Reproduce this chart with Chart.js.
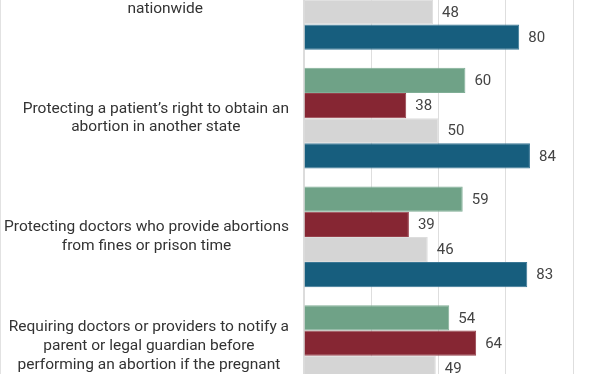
<!DOCTYPE html>
<html>
<head>
<meta charset="utf-8">
<script src="https://cdn.jsdelivr.net/npm/chart.js@4.4.1/dist/chart.umd.min.js"></script>
<style>
    html, body { margin: 0; padding: 0; background: #fff; }
    #frame { position: relative; width: 612px; height: 374px; overflow: hidden; box-sizing: border-box; border-left: 1px solid #e2e2e2; }
    #holder { position: absolute; left: -1px; top: -60px; width: 612px; height: 475px; }
</style>
</head>
<body>
<div id="frame">
    <div id="holder"><canvas id="policyChart"></canvas></div>
</div>
<script>
// categories (multi-line labels)
const categories = [
    ['Establishing a legal right to abortion', 'nationwide'],
    ['Protecting a patient\u2019s right to obtain an', 'abortion in another state'],
    ['Protecting doctors who provide abortions', 'from fines or prison time'],
    ['Requiring doctors or providers to notify a', 'parent or legal guardian before', 'performing an abortion if the pregnant', 'person is a minor']
];

const seriesNames = ['Total', 'Republicans', 'Independents', 'Democrats'];
const totalValues = [57, 60, 59, 54];
const republicanValues = [31, 38, 39, 64];
const independentValues = [48, 50, 46, 49];
const democratValues = [80, 84, 83, 47];

const xTicks = [0, 25, 50, 75, 100];

const seriesColors = ['#6fa287', '#862633', '#d5d5d5', '#175e7e'];
const seriesEdges = ['#80ae96', '#96404b', '#dddddd', '#3a7795'];

const valueLabels = {
    id: 'valueLabels',
    afterDatasetsDraw(chart) {
        const ctx = chart.ctx;
        ctx.save();
        ctx.font = '15px Roboto';
        ctx.fillStyle = '#444444';
        ctx.textAlign = 'left';
        ctx.textBaseline = 'middle';
        chart.data.datasets.forEach((ds, di) => {
            const meta = chart.getDatasetMeta(di);
            meta.data.forEach((bar, i) => {
                ctx.fillText(ds.data[i], bar.x + 9, bar.y + 1);
            });
        });
        ctx.restore();
    }
};

// category labels: each block right-aligned, lines centered inside the block
const categoryLabels = {
    id: 'categoryLabels',
    afterDraw(chart) {
        const ctx = chart.ctx;
        const yScale = chart.scales.y;
        const right = yScale.right - 15;
        const lh = 18.7;
        ctx.save();
        ctx.font = '15.5px Roboto';
        ctx.fillStyle = '#333333';
        ctx.textAlign = 'center';
        ctx.textBaseline = 'middle';
        categories.forEach((lines, i) => {
            const cy = yScale.getPixelForValue(i);
            const bw = Math.max(...lines.map(l => ctx.measureText(l).width));
            const cx = right - bw / 2;
            lines.forEach((line, k) => {
                ctx.fillText(line, cx, cy - (lines.length - 1) * lh / 2 + k * lh);
            });
        });
        ctx.restore();
    }
};

const allValues = [totalValues, republicanValues, independentValues, democratValues];

new Chart(document.getElementById('policyChart'), {
    type: 'bar',
    data: {
        labels: categories,
        datasets: allValues.map((vals, i) => ({
            label: seriesNames[i],
            data: vals,
            backgroundColor: seriesColors[i],
            borderColor: seriesEdges[i],
            borderWidth: 1,
            categoryPercentage: 0.8475,
            barPercentage: 1
        }))
    },
    options: {
        indexAxis: 'y',
        responsive: true,
        maintainAspectRatio: false,
        animation: false,
        layout: { padding: { left: 0, right: 39, top: 0, bottom: 0 } },
        scales: {
            x: {
                min: xTicks[0],
                max: xTicks[xTicks.length - 1],
                afterBuildTicks: (scale) => { scale.ticks = xTicks.map(v => ({ value: v })); },
                ticks: { display: false },
                grid: { color: '#dedede', lineWidth: 1, drawTicks: false },
                border: { display: false }
            },
            y: {
                afterFit: (scale) => { scale.width = 304; },
                ticks: { display: false },
                grid: { display: false },
                border: { display: true, color: '#dcdcdc', width: 2 }
            }
        },
        plugins: {
            legend: { display: false },
            tooltip: { enabled: false }
        }
    },
    plugins: [valueLabels, categoryLabels]
});
</script>
</body>
</html>
